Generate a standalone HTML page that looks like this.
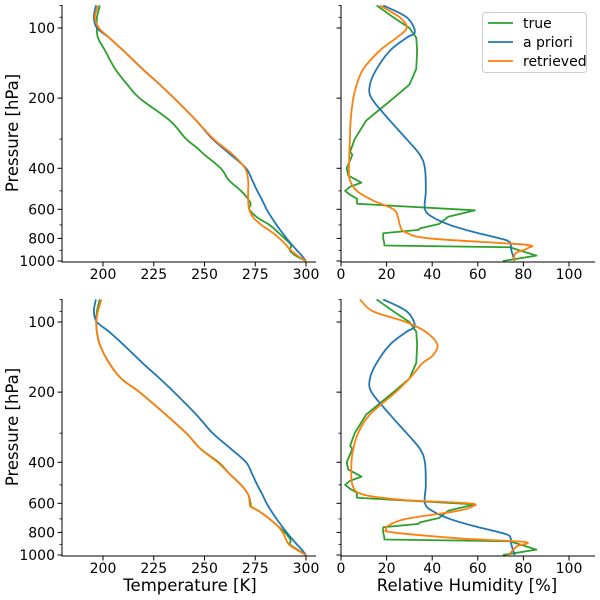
<!DOCTYPE html>
<html><head><meta charset="utf-8"><style>
html,body{margin:0;padding:0;background:#fff}
svg{display:block}
text{font-family:"DejaVu Sans","Liberation Sans",sans-serif;fill:#000}
</style></head><body>
<svg id="c" width="600" height="600" viewBox="0 0 600 600"></svg>
<script>
// ---- data ----
const yTicks=[100,200,400,600,800,1000];
const yMinor=[80,90,300,500,700,900];
const tempTicks=[200,225,250,275,300];
const rhTicks=[0,20,40,60,80,100];
const seriesNames=["true","a priori","retrieved"];

const tTrueP=[80,90,100,110,125,150,175,200,250,300,325,350,400,450,500,550,575,600,650,700,750,800,850,875,900,950,1000];
const tTrue=[198.5,197,197,197.5,201,206,212,218,233,241,246,250,258,262,268,272,272.7,272,276,282,286,289.5,292.5,292.5,292,295,300];
const tApriP=[80,90,100,110,125,150,175,200,250,300,350,400,450,500,550,600,650,700,750,800,850,900,950,1000];
const tApri=[196.5,195.5,197,203,210,219.5,228,235,246,254,263,270.5,273.5,276,278.5,280.6,283,285.5,288,290.5,293,295.5,298,300];
const tRet1P=[80,90,100,110,125,150,175,200,250,300,350,400,450,500,550,600,650,700,750,800,850,900,950,1000];
const tRet1=[197.5,196,198,203,210,219.5,228,235,246,254.5,264,270,271.5,271.5,271.5,272,274,278,283,287,290,292.5,296,300];
const tTrue2P=[80,90,100,110,125,150,175,200,250,300,350,400,450,500,550,600,620,650,700,750,800,850,875,900,950,1000];
const tTrue2=[198.4,197,196.7,197,198.4,203,209,218,231,241,248,257,262.5,268,271.5,272.7,273,277,282,286,289.6,292,292.5,292,296,300];
const tRet2P=[80,90,100,110,125,150,175,200,250,300,350,400,450,500,550,600,620,650,700,750,800,850,900,950,1000];
const tRet2=[199.2,197.5,196.7,197,198.4,203,209,218,231,241,248,256.5,262.5,268,271.5,272.3,272.7,277,282,286,288.5,290,291.5,295.5,300];

const rhTrueP=[80,90,100,110,125,150,175,200,250,300,340,350,400,430,450,461,480,500,520,540,568,606,646,694,724,735,760,800,840,858,873,948,1000];
const rhTrue=[15.6,23,30,33,33.4,33,30,23,11,6,4,5,2.5,3.2,7,9,4,1.8,4,7,7,58.7,47,43,34.6,34,18.5,18.5,19,19,74,85.7,71];
const rhApriP=[80,90,104,110,125,150,175,200,250,300,350,400,500,600,650,700,750,800,830,900,1000];
const rhApri=[18.5,28.8,32.4,28.8,21.5,15.6,12.7,13.4,21.5,28.8,34.6,36.8,37.2,36.8,40.4,47.7,58,69.6,74,74.7,76.2];
const rhRet1P=[80,90,100,110,125,150,175,200,250,300,400,450,500,550,600,650,700,750,800,850,880,920,950,1000];
const rhRet1=[17,25.8,28.8,24.4,17,9.8,6.9,5.4,4.2,3.9,3.5,3.9,6.9,14,23,25,25.8,28,39,80,82,77,76,76];
const rhRet2P=[80,90,100,110,125,140,150,175,200,250,300,350,400,500,550,580,600,620,650,700,750,780,800,850,880,920,1000];
const rhRet2=[8.3,14,28.5,37,42.3,40,35.8,30,24,12.6,7.5,5.4,4.6,5,9.7,27,56,57.5,50,28.5,20.6,20,22.7,53,80.7,77,73.5];

// ---- scales ----
const NS="http://www.w3.org/2000/svg";
const svg=document.getElementById('c');
function mk(tag,at,parent){const e=document.createElementNS(NS,tag);for(const k in at)e.setAttribute(k,at[k]);(parent||svg).appendChild(e);return e;}
const tx=T=>103+(T-200)*2.03;
const rx=R=>341+R*2.28;
const panels=[
 {x0:62,x1:316,top:5,bot:262,y100:28,xs:tx,ticks:tempTicks,name:'temperature-top',labels:true},
 {x0:341,x1:595,top:5,bot:262,y100:28,xs:rx,ticks:rhTicks,name:'humidity-top',labels:false},
 {x0:62,x1:316,top:299,bot:556,y100:322,xs:tx,ticks:tempTicks,name:'temperature-bottom',labels:true},
 {x0:341,x1:595,top:299,bot:556,y100:322,xs:rx,ticks:rhTicks,name:'humidity-bottom',labels:false}
];
const colors={"true":"#2ca02c","a priori":"#1f77b4","retrieved":"#ff7f0e"};

function pathD(pts,smooth){
 if(!smooth) return pts.map((q,i)=>(i?'L':'M')+q[0].toFixed(2)+','+q[1].toFixed(2)).join('');
 let d='M'+pts[0][0].toFixed(2)+','+pts[0][1].toFixed(2);
 for(let i=0;i<pts.length-1;i++){
  const p0=pts[Math.max(0,i-1)],p1=pts[i],p2=pts[i+1],p3=pts[Math.min(pts.length-1,i+2)];
  const c1=[p1[0]+(p2[0]-p0[0])/6,p1[1]+(p2[1]-p0[1])/6];
  const c2=[p2[0]-(p3[0]-p1[0])/6,p2[1]-(p3[1]-p1[1])/6];
  d+='C'+c1[0].toFixed(2)+','+c1[1].toFixed(2)+' '+c2[0].toFixed(2)+','+c2[1].toFixed(2)+' '+p2[0].toFixed(2)+','+p2[1].toFixed(2);
 }
 return d;
}

function drawPanel(pn,series){
 const g=mk('g',{});
 
 
 const ys=p=>pn.y100+233*Math.log10(p/100);
 const clip='clip-'+pn.name;
 const cp=mk('clipPath',{id:clip},g);mk('rect',{x:pn.x0,y:pn.top,width:pn.x1-pn.x0,height:pn.bot-pn.top},cp);
 series.forEach(s=>{
  const pts=s.p.map((p,i)=>[pn.xs(s.v[i]),ys(p)]);
  const path=mk('path',{d:pathD(pts,s.smooth),fill:'none',stroke:colors[s.name],'stroke-width':1.8,'stroke-linejoin':'round','clip-path':'url(#'+clip+')'},g);
  
  
 });
 const sp=mk('path',{d:`M${pn.x0},${pn.top}V${pn.bot}H${pn.x1}`,fill:'none',stroke:'#000','stroke-width':1},g);
 
 
 yTicks.forEach(p=>{
  const y=ys(p);
  mk('line',{x1:pn.x0-4.5,x2:pn.x0,y1:y,y2:y,stroke:'#000','stroke-width':1},g);
  if(pn.labels){const t=mk('text',{x:pn.x0-7,y:y+5,'text-anchor':'end','font-size':14},g);t.textContent=p;
   
   }
 });
 yMinor.forEach(p=>{const y=ys(p);mk('line',{x1:pn.x0-2.5,x2:pn.x0,y1:y,y2:y,stroke:'#000','stroke-width':0.8},g);});
 pn.ticks.forEach(v=>{
  const x=pn.xs(v);
  mk('line',{x1:x,x2:x,y1:pn.bot,y2:pn.bot+4.5,stroke:'#000','stroke-width':1},g);
  const t=mk('text',{x:x,y:pn.bot+17,'text-anchor':'middle','font-size':14},g);t.textContent=v;
  
  
 });
}
drawPanel(panels[0],[{name:'true',p:tTrueP,v:tTrue,smooth:true},{name:'a priori',p:tApriP,v:tApri,smooth:true},{name:'retrieved',p:tRet1P,v:tRet1,smooth:true}]);
drawPanel(panels[1],[{name:'true',p:rhTrueP,v:rhTrue,smooth:false},{name:'a priori',p:rhApriP,v:rhApri,smooth:true},{name:'retrieved',p:rhRet1P,v:rhRet1,smooth:true}]);
drawPanel(panels[2],[{name:'true',p:tTrue2P,v:tTrue2,smooth:true},{name:'a priori',p:tApriP,v:tApri,smooth:true},{name:'retrieved',p:tRet2P,v:tRet2,smooth:true}]);
drawPanel(panels[3],[{name:'true',p:rhTrueP,v:rhTrue,smooth:false},{name:'a priori',p:rhApriP,v:rhApri,smooth:true},{name:'retrieved',p:rhRet2P,v:rhRet2,smooth:true}]);

function title(txt,at,name){const t=mk('text',at);t.textContent=txt;
 
 }
title('Pressure [hPa]',{x:0,y:0,'font-size':16.5,'text-anchor':'middle',transform:'translate(18,133) rotate(-90)'},'y-axis-title-top');
title('Pressure [hPa]',{x:0,y:0,'font-size':16.5,'text-anchor':'middle',transform:'translate(18,427) rotate(-90)'},'y-axis-title-bottom');
title('Temperature [K]',{x:190,y:591,'font-size':16.5,'text-anchor':'middle'},'x-axis-title-temperature');
title('Relative Humidity [%]',{x:467,y:591,'font-size':16.5,'text-anchor':'middle'},'x-axis-title-humidity');

const lg=mk('g',{});


mk('rect',{x:482.5,y:12.5,width:104,height:60,rx:3,fill:'#fff',stroke:'#ccc','stroke-width':1},lg);
seriesNames.forEach((n,i)=>{
 const y=23+i*19;
 const e=mk('g',{},lg);
 
 
 mk('line',{x1:488,x2:513,y1:y,y2:y,stroke:colors[n],'stroke-width':1.8},e);
 const t=mk('text',{x:523,y:y+5,'font-size':14},e);t.textContent=n;
});
</script>
</body></html>
